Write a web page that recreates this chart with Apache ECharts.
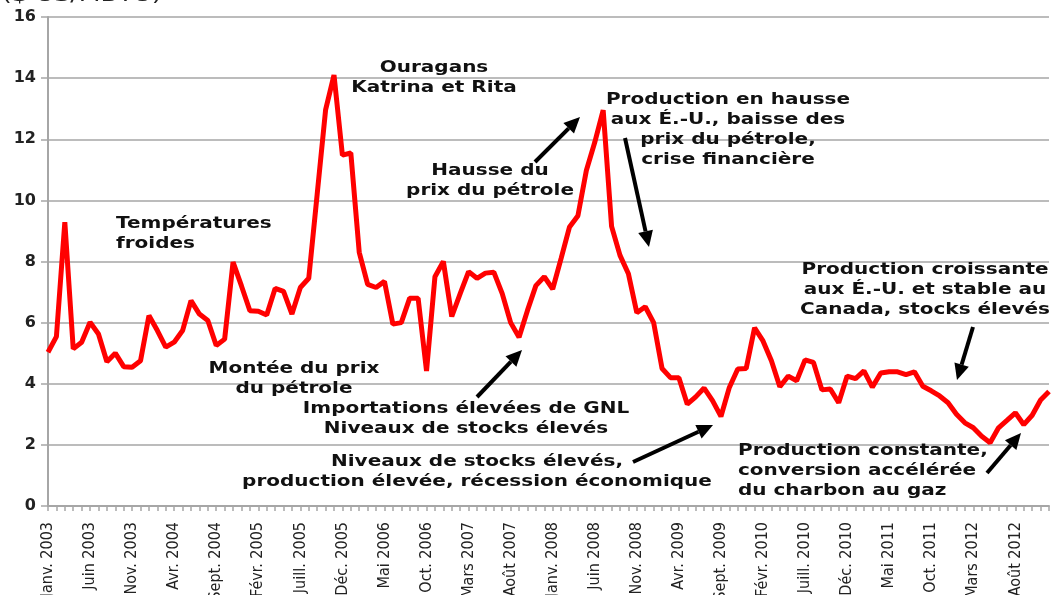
<!DOCTYPE html>
<html>
<head>
<meta charset="utf-8">
<title>Prix du gaz naturel</title>
<script src="https://cdn.jsdelivr.net/npm/echarts@6/dist/echarts.min.js"></script>
<style>
  html, body { margin: 0; padding: 0; background: #fff; }
  #main { width: 1052px; height: 595px; }
</style>
</head>
<body>
<div id="main"></div>
<script>
// mois et années de l'axe horizontal
const moisNoms = ['Janv.', 'Févr.', 'Mars', 'Avr.', 'Mai', 'Juin', 'Juill.', 'Août', 'Sept.', 'Oct.', 'Nov.', 'Déc.'];
const annees = [2003, 2004, 2005, 2006, 2007, 2008, 2009, 2010, 2011, 2012];
const yTicks = [0, 2, 4, 6, 8, 10, 12, 14, 16];

// prix mensuels ($ US/MBTU)
const prix2003 = [5.03, 5.54, 9.29, 5.14, 5.36, 6.01, 5.63, 4.72, 5.0, 4.56, 4.54, 4.75];
const prix2004 = [6.23, 5.74, 5.2, 5.36, 5.74, 6.72, 6.28, 6.07, 5.25, 5.46, 7.98, 7.2];
const prix2005 = [6.39, 6.37, 6.25, 7.12, 7.02, 6.28, 7.15, 7.45, 10.2, 12.96, 14.1, 11.48];
const prix2006 = [11.55, 8.3, 7.25, 7.15, 7.35, 5.95, 6.0, 6.8, 6.8, 4.42, 7.5, 8.0];
const prix2007 = [6.2, 6.95, 7.67, 7.45, 7.62, 7.65, 6.95, 6.0, 5.52, 6.4, 7.21, 7.5];
const prix2008 = [7.1, 8.1, 9.13, 9.5, 10.98, 11.9, 12.95, 9.15, 8.2, 7.6, 6.32, 6.52];
const prix2009 = [6.0, 4.5, 4.2, 4.2, 3.33, 3.57, 3.86, 3.45, 2.93, 3.88, 4.48, 4.5];
const prix2010 = [5.83, 5.4, 4.75, 3.9, 4.25, 4.1, 4.78, 4.7, 3.8, 3.83, 3.38, 4.25];
const prix2011 = [4.17, 4.42, 3.89, 4.35, 4.39, 4.39, 4.3, 4.39, 3.92, 3.77, 3.6, 3.38];
const prix2012 = [3.0, 2.72, 2.56, 2.28, 2.07, 2.56, 2.8, 3.05, 2.66, 2.97, 3.47, 3.75];

let categories = [];
annees.forEach(a => moisNoms.forEach(m => categories.push(m + ' ' + a)));
let prix = [].concat(prix2003, prix2004, prix2005, prix2006, prix2007, prix2008,
  prix2009, prix2010, prix2011, prix2012);

// annotations (position en pixels)
const notes = [
  {x: 434, y: 58, align: 'center', text: 'Ouragans\nKatrina et Rita'},
  {x: 116, y: 214, align: 'left', text: 'Températures\nfroides'},
  {x: 490, y: 161, align: 'center', text: 'Hausse du\nprix du pétrole'},
  {x: 728, y: 90, align: 'center', text: 'Production en hausse\naux É.-U., baisse des\nprix du pétrole,\ncrise financière'},
  {x: 294, y: 359, align: 'center', text: 'Montée du prix\ndu pétrole'},
  {x: 466, y: 399, align: 'center', text: 'Importations élevées de GNL\nNiveaux de stocks élevés'},
  {x: 477, y: 452, align: 'center', text: 'Niveaux de stocks élevés,\nproduction élevée, récession économique'},
  {x: 925, y: 260, align: 'center', text: 'Production croissante\naux É.-U. et stable au\nCanada, stocks élevés'},
  {x: 738, y: 441, align: 'left', text: 'Production constante,\nconversion accélérée\ndu charbon au gaz'}
];
const fleches = [
  [535, 162, 580, 117],
  [625, 138, 649, 247],
  [477, 397, 522, 350],
  [633, 462, 713, 425],
  [973, 327, 957, 380],
  [987, 473, 1021, 433]
];

const texteFont = 'bold 16px "DejaVu Sans", Verdana, sans-serif';
let graphics = [];
graphics.push({
  type: 'text', x: 2, y: 5, scaleX: 1.4, z: 10,
  style: {text: '($ US/MBTU)', font: '18px "DejaVu Sans", sans-serif', fill: '#222',
    textAlign: 'left', textVerticalAlign: 'bottom'}
});
notes.forEach(n => {
  graphics.push({
    type: 'text', x: n.x, y: n.y, scaleX: 1.25, z: 10,
    style: {text: n.text, font: texteFont, fill: '#111', lineHeight: 20,
      textAlign: n.align, textVerticalAlign: 'top'}
  });
});
fleches.forEach(f => {
  let dx = f[2] - f[0], dy = f[3] - f[1];
  let len = Math.sqrt(dx * dx + dy * dy);
  let ux = dx / len, uy = dy / len;
  let L = 16, W = 7.5;
  let bx = f[2] - ux * L, by = f[3] - uy * L;
  graphics.push({
    type: 'line', z: 10,
    shape: {x1: f[0], y1: f[1], x2: bx, y2: by},
    style: {stroke: '#000', lineWidth: 4}
  });
  graphics.push({
    type: 'polygon', z: 10,
    shape: {points: [[f[2], f[3]], [bx - uy * W, by + ux * W], [bx + uy * W, by - ux * W]]},
    style: {fill: '#000'}
  });
});

let myChart = echarts.init(document.getElementById('main'));
myChart.setOption({
  animation: false,
  backgroundColor: '#fff',
  grid: {left: 48, right: 3, top: 17, bottom: 89, containLabel: false, outerBoundsMode: 'none'},
  xAxis: {
    type: 'category',
    data: categories,
    boundaryGap: false,
    axisLine: {lineStyle: {color: '#a6a6a6', width: 2}},
    axisTick: {show: true, interval: 0, length: 5, lineStyle: {color: '#a6a6a6', width: 1.5}},
    axisLabel: {
      interval: 4, rotate: 90, margin: 16, color: '#222',
      fontFamily: '"Liberation Sans Narrow", "DejaVu Sans Condensed", sans-serif', fontSize: 16
    },
    splitLine: {show: false}
  },
  yAxis: {
    type: 'value',
    min: yTicks[0], max: yTicks[yTicks.length - 1], interval: 2,
    axisLine: {show: true, lineStyle: {color: '#a6a6a6', width: 2}},
    axisTick: {show: true, length: 7, lineStyle: {color: '#a6a6a6', width: 1.5}},
    axisLabel: {margin: 12, color: '#222', fontFamily: '"DejaVu Sans", sans-serif', fontSize: 16, fontWeight: 'bold'},
    splitLine: {lineStyle: {color: '#a6a6a6', width: 1.5}}
  },
  series: [{
    type: 'line',
    data: prix,
    symbol: 'none',
    lineStyle: {color: '#ff0000', width: 5},
    itemStyle: {color: '#ff0000'}
  }],
  graphic: graphics
});
</script>
</body>
</html>
